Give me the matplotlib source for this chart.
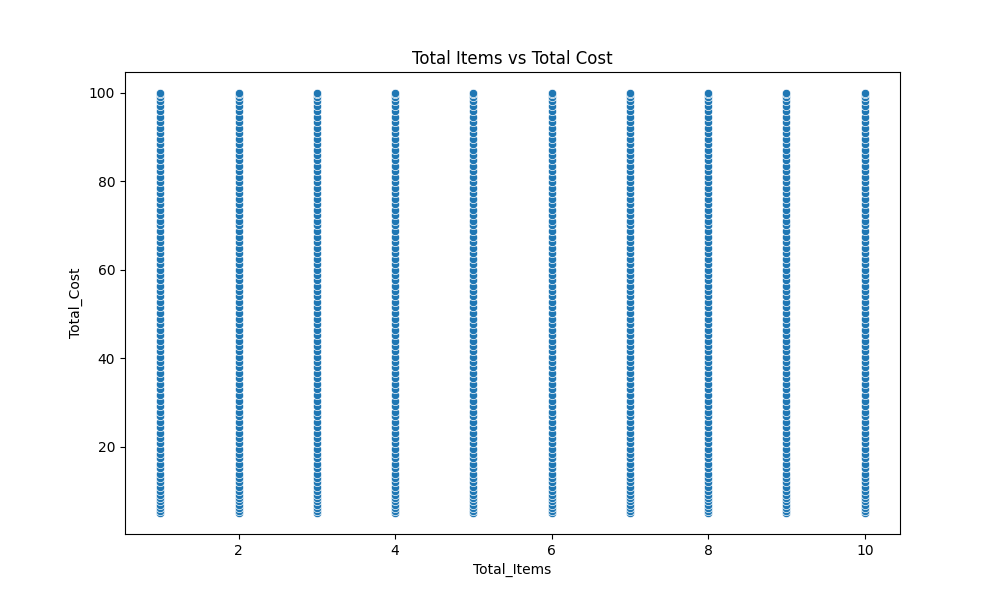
import numpy as np
import matplotlib.pyplot as plt
import seaborn as sns

items = [1, 2, 3, 4, 5, 6, 7, 8, 9, 10]
costs = [5.1, 5.6, 6.3, 7.0, 7.8, 8.5, 9.2, 10.1, 11.0, 12.2, 13.1, 14.0, 15.3, 16.2,
         17.5, 18.4, 19.6, 20.8, 22.0, 23.1, 24.5, 25.6, 26.9, 28.0, 29.3, 30.4,
         31.8, 33.0, 34.2, 35.5, 36.7, 38.0, 39.1, 40.4, 41.6, 42.9, 44.0, 45.3,
         46.5, 47.8, 49.0, 50.2, 51.5, 52.7, 54.0, 55.1, 56.4, 57.6, 58.9, 60.0,
         61.3, 62.5, 63.8, 65.0, 66.2, 67.5, 68.7, 70.0, 71.1, 72.4, 73.6, 74.9,
         76.0, 77.3, 78.5, 79.8, 81.0, 82.2, 83.5, 84.7, 86.0, 87.1, 88.4, 89.6,
         90.9, 92.0, 93.3, 94.5, 95.8, 97.0, 98.1, 99.0, 99.6, 99.9]

x = np.repeat(items, len(costs))
y = np.tile(costs, len(items))

fig, ax = plt.subplots(figsize=(10, 6), dpi=100)
sns.scatterplot(x=x, y=y, ax=ax)
ax.set_xlabel('Total_Items')
ax.set_ylabel('Total_Cost')
ax.set_title('Total Items vs Total Cost')
plt.savefig('out.png')
